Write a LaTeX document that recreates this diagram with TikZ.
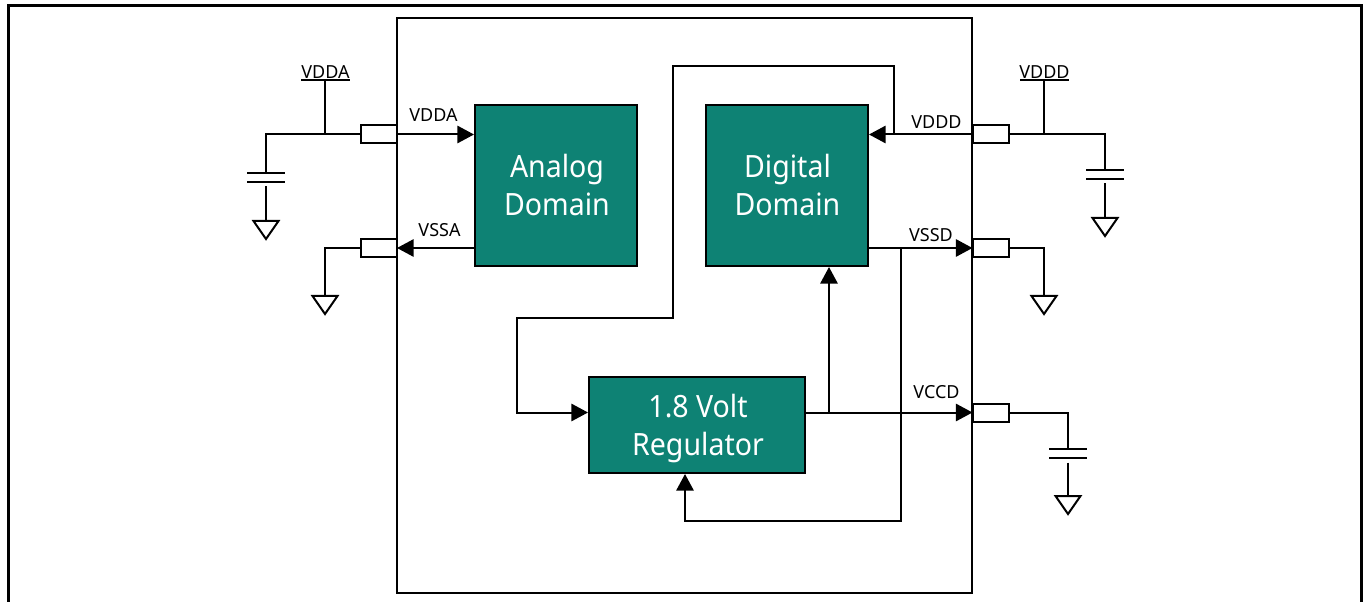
\documentclass[tikz,border=0pt]{standalone}
\usepackage{fontspec}
\setmainfont{Noto Sans}
\newfontfamily\bigfont[FakeStretch=0.93]{Noto Sans}
\usetikzlibrary{arrows.meta}
\definecolor{teal1}{HTML}{0E8274}
\tikzset{
  x=0.75pt,y=-0.75pt,
  wire/.style={draw=black,line width=1.5pt,line join=miter},
  arrowed/.style={wire,-{Triangle[length=12.5pt,width=13pt]}},
  block/.style={draw=black,fill=teal1,line width=1.5pt,inner sep=0pt},
  blocktext/.style={text=white,align=center,inner sep=0pt,
    font=\bigfont\fontsize{23}{28.8}\selectfont},
  padbox/.style={draw=black,fill=white,line width=1.5pt,minimum width=27pt,minimum height=13.5pt,inner sep=0pt},
  lbl/.style={font=\fontsize{13.5}{16}\selectfont,inner sep=0pt,text=black},
  pics/gndsym/.style={code={\draw[wire] (-12.5,0)--(12.5,0)--(0,18)--cycle;}},
  pics/capsym/.style={code={\draw[wire] (-19,-4.5)--(19,-4.5) (-19,4.5)--(19,4.5);}},
}
\begin{document}
\begin{tikzpicture}
\useasboundingbox (0,0) rectangle (1367,602);
% page frame, cut off at the bottom
\draw[line width=2pt] (8.5,602)--(8.5,5.5)--(1361.5,5.5)--(1361.5,602);
% chip outline
\node[draw=black,line width=1.5pt,minimum width=431.6pt,minimum height=431.25pt,inner sep=0pt] (chip) at (684.75,305.3) {};
% blocks
\node[block,minimum width=121.5pt,minimum height=120.75pt] (analog) at (556,185.5) {};
\node[block,minimum width=121.5pt,minimum height=120.75pt] (digital) at (787,185.5) {};
\node[block,minimum width=162pt,minimum height=72pt] (reg) at (697,425) {};
\node[blocktext] (analogText) at (557,185) {Analog\\Domain};
\node[blocktext] (digitalText) at (787.5,185) {Digital\\Domain};
\node[blocktext] (regText) at (698,428.5) {1.8 Volt\\Regulator};
% anchors on the pins
\coordinate (vddaIn) at (397,134.5);
\coordinate (vssaIn) at (397,248);
\coordinate (vdddIn) at (972.5,134.5);
\coordinate (vssdIn) at (972.5,248);
\coordinate (vccdIn) at (972.5,412.5);
% external symbols
\coordinate (vddaBar) at (325,80.5);
\coordinate (vddaTee) at (325,134.5);
\coordinate (vddaCorner) at (266,134.5);
\coordinate (capA) at (266,177.5);
\coordinate (gndA) at (266,221);
\coordinate (vssaCorner) at (325,248);
\coordinate (gndB) at (325,296);
\coordinate (vdddBar) at (1044,80.5);
\coordinate (vdddTee) at (1044,134.5);
\coordinate (vdddCorner) at (1105,134.5);
\coordinate (capD) at (1105,174.5);
\coordinate (gndD) at (1105,218);
\coordinate (vssdCorner) at (1044,248);
\coordinate (gndE) at (1044,296);
\coordinate (vccdCorner) at (1068,412.5);
\coordinate (capC) at (1068,453.5);
\coordinate (gndC) at (1068,496);
% internal wiring
\coordinate (vdddBranch) at (894,134.5);
\coordinate (vb1) at (894,66);
\coordinate (vb2) at (673,66);
\coordinate (vb3) at (673,318);
\coordinate (vb4) at (517,318);
\coordinate (vb5) at (517,412.5);
\coordinate (regIn) at (reg.west |- vb5);
\coordinate (vssdBranch) at (900.5,248);
\coordinate (sb1) at (900.5,520.5);
\coordinate (sb2) at (685,520.5);
\coordinate (regOut) at (reg.east |- vb5);
\coordinate (regBranch) at (829,412.5);
\coordinate (digVdd) at (digital.east |- vdddIn);
\coordinate (digVss) at (digital.east |- vssdIn);
\coordinate (anaVdd) at (analog.west |- vddaIn);
\coordinate (anaVss) at (analog.west |- vssaIn);
\draw[arrowed] (vddaIn)--(anaVdd);
\draw[arrowed] (anaVss)--(vssaIn);
\draw[arrowed] (vdddIn)--(digVdd);
\draw[arrowed] (digVss)--(vssdIn);
\draw[arrowed] (regOut)--(vccdIn);
\draw[arrowed] (vdddBranch)--(vb1)--(vb2)--(vb3)--(vb4)--(vb5)--(regIn);
\draw[arrowed] (vssdBranch)--(sb1)--(sb2)--(sb2 |- reg.south);
\draw[arrowed] (regBranch)--(regBranch |- digital.south);
% pads
\node[padbox] (padA) at (379,134.5) {};
\node[padbox] (padB) at (379,248) {};
\node[padbox] (padD) at (990.5,134.5) {};
\node[padbox] (padE) at (990.5,248) {};
\node[padbox] (padC) at (990.5,412.5) {};
% external wiring
\draw[wire] (padA.west |- vddaTee)--(vddaCorner)--(capA);
\draw[wire] (capA)++(0,9)--(gndA);
\draw[wire] (vddaBar)--(vddaTee);
\draw[wire] (301,80.5)--(350,80.5);
\draw[wire] (padB.west)--(vssaCorner)--(gndB);
\draw[wire] (padD.east)--(vdddCorner)--(capD);
\draw[wire] (capD)++(0,9)--(gndD);
\draw[wire] (vdddBar)--(vdddTee);
\draw[wire] (1020,80.5)--(1069,80.5);
\draw[wire] (padE.east)--(vssdCorner)--(gndE);
\draw[wire] (padC.east)--(vccdCorner)--(capC);
\draw[wire] (capC)++(0,9)--(gndC);
\fill[white] (capA)++(-10,-4) rectangle ++(20,8);
\fill[white] (capD)++(-10,-4) rectangle ++(20,8);
\fill[white] (capC)++(-10,-4) rectangle ++(20,8);
\pic at (capA) {capsym};
\pic at (capD) {capsym};
\pic at (capC) {capsym};
\pic at (gndA) {gndsym};
\pic at (gndB) {gndsym};
\pic at (gndC) {gndsym};
\pic at (gndD) {gndsym};
\pic at (gndE) {gndsym};
% labels
\node[lbl] (tVDDAext) at (325.5,72) {VDDA};
\node[lbl] (tVDDD) at (1044.5,72) {VDDD};
\node[lbl] (tVDDAin) at (433.5,115) {VDDA};
\node[lbl] (tVSSA) at (439.5,230) {VSSA};
\node[lbl] (tVDDDin) at (936.5,122) {VDDD};
\node[lbl] (tVSSD) at (931,235.5) {VSSD};
\node[lbl] (tVCCD) at (936.5,392) {VCCD};
\end{tikzpicture}
\end{document}
